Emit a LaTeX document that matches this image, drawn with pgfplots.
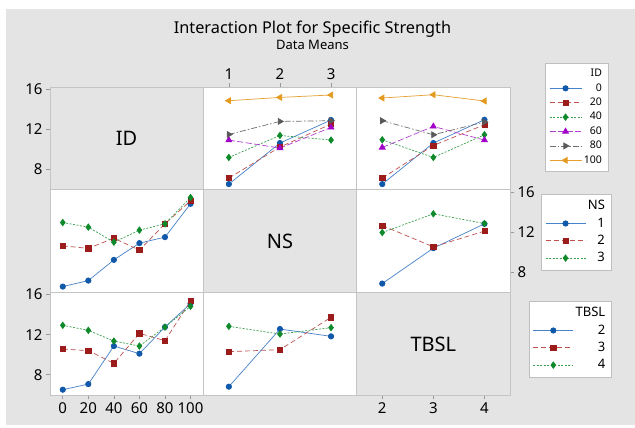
\documentclass[border=0pt]{standalone}
\usepackage{fontspec}
\setmainfont{Noto Sans}
\usepackage{pgfplots}
\pgfplotsset{compat=1.18}
\definecolor{bg}{RGB}{228,228,228}
\definecolor{fr}{RGB}{196,196,196}
\definecolor{c1}{RGB}{16,88,170}
\definecolor{c1l}{RGB}{70,130,200}
\definecolor{c2}{RGB}{156,28,28}
\definecolor{c2l}{RGB}{190,80,80}
\definecolor{c3}{RGB}{14,138,42}
\definecolor{c3l}{RGB}{60,160,80}
\definecolor{c4}{RGB}{160,0,200}
\definecolor{c4l}{RGB}{176,64,208}
\definecolor{c5}{RGB}{89,89,89}
\definecolor{c5l}{RGB}{112,112,112}
\definecolor{c6}{RGB}{227,154,30}
\definecolor{c6l}{RGB}{230,160,48}
\pgfplotsset{
  panel/.style={scale only axis, width=153.3pt, height=102.8pt, ymin=5.93, ymax=16.2,
    axis line style={draw=fr, line width=0.8pt},
    axis background/.style={fill=white},
    xtick=\empty, ytick=\empty,
    tick align=outside, major tick length=4pt,
    tick style={draw=black!40, line width=0.6pt},
    tick label style={font=\fontsize{15}{15}\selectfont},
    /pgf/number format/assume math mode=true,
    anchor=north west,
    legend cell align=right,
  },
  diag/.style={axis background/.style={fill=bg}},
  idx/.style={xmin=-10, xmax=110},
  nsx/.style={xmin=0.5, xmax=3.5},
  tbx/.style={xmin=1.5, xmax=4.5},
  s1/.style={draw=c1l, line width=0.7pt, solid, mark=*, mark size=2.7pt, mark options={solid, draw=c1, fill=c1}},
  s2/.style={draw=c2l, line width=0.7pt, dash pattern=on 5pt off 3pt, mark=square*, mark size=2.6pt, mark options={solid, draw=c2, fill=c2}},
  s3/.style={draw=c3l, line width=0.7pt, dash pattern=on 2pt off 1.5pt, mark=diamond*, mark size=3.2pt, mark options={solid, draw=c3, fill=c3}},
  s4/.style={draw=c4l, line width=0.7pt, dash pattern=on 6pt off 2.5pt, mark=triangle*, mark size=3.4pt, mark options={solid, draw=c4, fill=c4}},
  s5/.style={draw=c5l, line width=0.7pt, dash pattern=on 6pt off 2pt on 1.5pt off 2pt, mark=triangle*, mark size=3.4pt, mark options={solid, draw=c5, fill=c5, rotate=-90}},
  s6/.style={draw=c6l, line width=0.7pt, solid, mark=triangle*, mark size=3.4pt, mark options={solid, draw=c6, fill=c6, rotate=90}},
}
\begin{document}
\begin{tikzpicture}[x=1pt,y=1pt]
\fill[white] (0,0) rectangle (635,-428);
\fill[bg] (6,-9) rectangle (635,-425);
\node[anchor=base, font=\fontsize{16.3}{17}\selectfont] at (312.5,-34) {Interaction Plot for Specific Strength};
\node[anchor=base, font=\fontsize{13}{14}\selectfont] at (312.5,-49.3) {Data Means};

% ---------- Row 1 ----------
\begin{axis}[panel, diag, idx, at={(50pt,-87pt)}, ytick={8,12,16}, ytick pos=left, yticklabel pos=left]
\node[font=\fontsize{20}{20}\selectfont] at (rel axis cs:0.5,0.5) {ID};
\end{axis}

\begin{axis}[panel, nsx, at={(203.3pt,-87pt)}, xtick={1,2,3}, xtick pos=upper, xticklabel pos=upper]
\addplot[s1] coordinates {(1,6.5) (2,10.6) (3,12.9)};
\addplot[s2] coordinates {(1,7.1) (2,10.2) (3,12.5)};
\addplot[s3] coordinates {(1,9.16) (2,11.36) (3,10.9)};
\addplot[s4] coordinates {(1,10.9) (2,10.1) (3,12.16)};
\addplot[s5] coordinates {(1,11.46) (2,12.76) (3,12.83)};
\addplot[s6] coordinates {(1,14.83) (2,15.16) (3,15.4)};
\end{axis}

\begin{axis}[panel, tbx, at={(356.7pt,-87pt)},
  legend style={at={(1.2283,1.2335)}, anchor=north west, draw=black!25, fill=white,
    font=\fontsize{10.5}{12}\selectfont, inner xsep=4pt, inner ysep=5pt, row sep=2.9pt,
    nodes={inner ysep=1pt, inner xsep=2pt, text height=7.5pt, text depth=2pt}},
  legend image code/.code={\draw[mark repeat=2,mark phase=2,#1] plot coordinates {(0pt,0pt) (16pt,0pt) (32pt,0pt)};}]
\addlegendimage{empty legend}\addlegendentry{ID}
\addplot[s1] coordinates {(2,6.5) (3,10.6) (4,12.93)};\addlegendentry{0}
\addplot[s2] coordinates {(2,7.1) (3,10.36) (4,12.43)};\addlegendentry{20}
\addplot[s3] coordinates {(2,10.93) (3,9.16) (4,11.43)};\addlegendentry{40}
\addplot[s4] coordinates {(2,10.16) (3,12.26) (4,10.9)};\addlegendentry{60}
\addplot[s5] coordinates {(2,12.83) (3,11.43) (4,12.7)};\addlegendentry{80}
\addplot[s6] coordinates {(2,15.1) (3,15.43) (4,14.8)};\addlegendentry{100}
\end{axis}

% ---------- Row 2 ----------
\begin{axis}[panel, idx, at={(50pt,-189.8pt)}]
\addplot[s1] coordinates {(0,6.53) (20,7.13) (40,9.2) (60,10.87) (80,11.47) (100,14.8)};
\addplot[s2] coordinates {(0,10.6) (20,10.35) (40,11.37) (60,10.17) (80,12.8) (100,15.1)};
\addplot[s3] coordinates {(0,12.93) (20,12.47) (40,10.97) (60,12.17) (80,12.8) (100,15.43)};
\end{axis}

\begin{axis}[panel, diag, nsx, at={(203.3pt,-189.8pt)}]
\node[font=\fontsize{20}{20}\selectfont] at (rel axis cs:0.5,0.5) {NS};
\end{axis}

\begin{axis}[panel, tbx, at={(356.7pt,-189.8pt)}, ytick={8,12,16}, ytick pos=right, yticklabel pos=right,
  legend style={at={(1.2022,0.9591)}, anchor=north west, draw=black!25, fill=white,
    font=\fontsize{13}{14}\selectfont, inner xsep=4pt, inner ysep=5pt, row sep=3.3pt,
    nodes={inner ysep=1pt, inner xsep=2pt, text height=9.5pt, text depth=2.5pt}},
  legend image code/.code={\draw[mark repeat=2,mark phase=2,#1] plot coordinates {(0pt,0pt) (20pt,0pt) (40pt,0pt)};}]
\addlegendimage{empty legend}\addlegendentry{NS}
\addplot[s1] coordinates {(2,6.83) (3,10.37) (4,12.8)};\addlegendentry{1}
\addplot[s2] coordinates {(2,12.63) (3,10.5) (4,12.07)};\addlegendentry{2}
\addplot[s3] coordinates {(2,11.93) (3,13.8) (4,12.83)};\addlegendentry{3}
\end{axis}

% ---------- Row 3 ----------
\begin{axis}[panel, idx, at={(50pt,-292.6pt)}, ytick={8,12,16}, ytick pos=left, yticklabel pos=left,
  xtick={0,20,40,60,80,100}, xtick pos=lower, xticklabel pos=lower]
\addplot[s1] coordinates {(0,6.5) (20,7.06) (40,10.86) (60,10.1) (80,12.76) (100,15.1)};
\addplot[s2] coordinates {(0,10.56) (20,10.4) (40,9.13) (60,12.13) (80,11.4) (100,15.36)};
\addplot[s3] coordinates {(0,12.93) (20,12.43) (40,11.36) (60,10.86) (80,12.76) (100,14.83)};
\end{axis}

\begin{axis}[panel, nsx, at={(203.3pt,-292.6pt)},
  legend style={at={(2.1232,0.9183)}, anchor=north west, draw=black!25, fill=white,
    font=\fontsize{13}{14}\selectfont, inner xsep=4pt, inner ysep=5pt, row sep=3.3pt,
    nodes={inner ysep=1pt, inner xsep=2pt, text height=9.5pt, text depth=2.5pt}},
  legend image code/.code={\draw[mark repeat=2,mark phase=2,#1] plot coordinates {(0pt,0pt) (20pt,0pt) (40pt,0pt)};}]
\addlegendimage{empty legend}\addlegendentry{TBSL}
\addplot[s1] coordinates {(1,6.8) (2,12.56) (3,11.83)};\addlegendentry{2}
\addplot[s2] coordinates {(1,10.3) (2,10.5) (3,13.73)};\addlegendentry{3}
\addplot[s3] coordinates {(1,12.83) (2,12.06) (3,12.7)};\addlegendentry{4}
\end{axis}

\begin{axis}[panel, diag, tbx, at={(356.7pt,-292.6pt)}, xtick={2,3,4}, xtick pos=lower, xticklabel pos=lower]
\node[font=\fontsize{20}{20}\selectfont] at (rel axis cs:0.5,0.5) {TBSL};
\end{axis}

\pgfresetboundingbox
\useasboundingbox (0,0) rectangle (635,-428);
\end{tikzpicture}
\end{document}
